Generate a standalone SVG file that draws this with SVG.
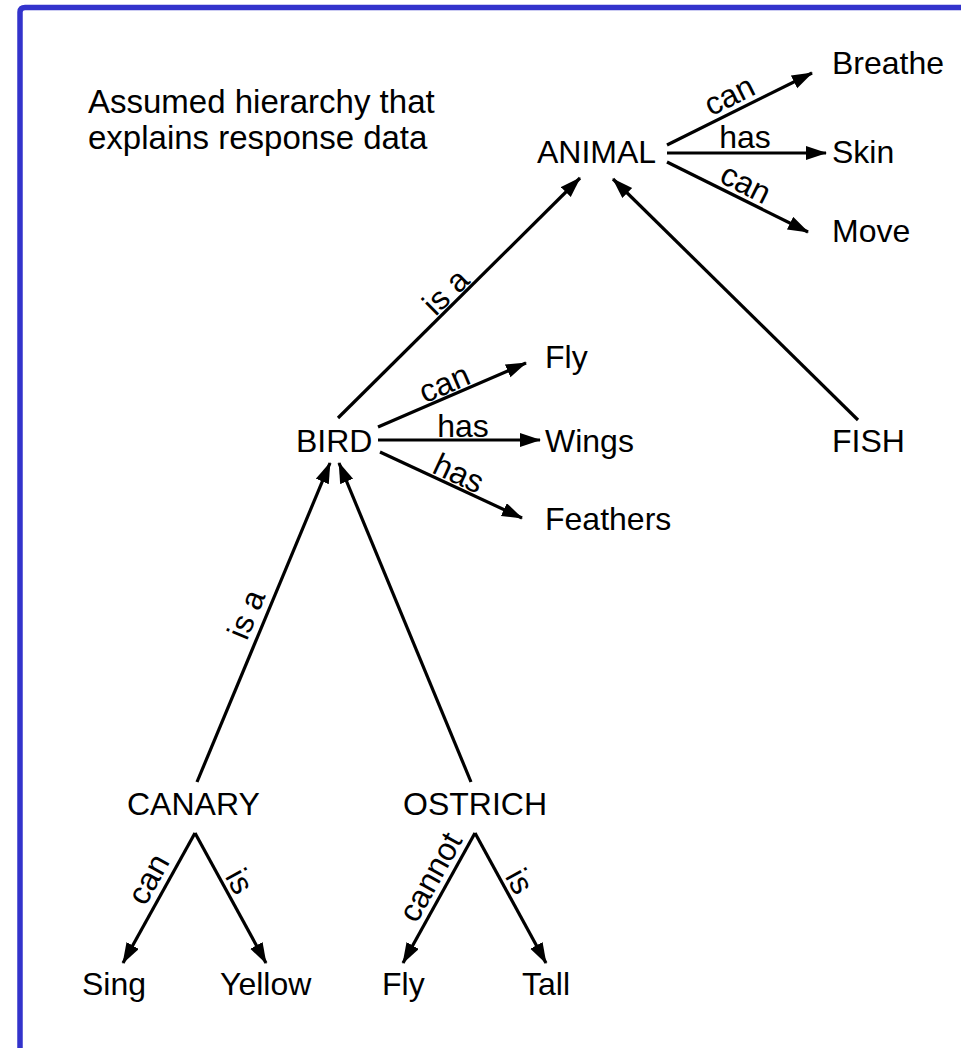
<svg xmlns="http://www.w3.org/2000/svg" width="961" height="1048" viewBox="0 0 961 1048">
  <style>
    text { font-family: "Liberation Sans", Arial, sans-serif; font-size: 32px; fill: #000; }
    .title { font-size: 33px; }
    .lbl { text-anchor: middle; }
    .edge { stroke: #000; stroke-width: 3.2; fill: none; marker-end: url(#arrow); }
  </style>
  <defs>
    <marker id="arrow" markerUnits="userSpaceOnUse" markerWidth="22" markerHeight="16" refX="20" refY="7" orient="auto">
      <path d="M0,0 L21,7 L0,14 Z" fill="#000"/>
    </marker>
  </defs>

  <rect width="961" height="1048" fill="#fff"/>
  <!-- frame: left and top rules with a small rounded corner -->
  <path d="M20,1048 V12 Q20,7.5 25,7.5 H961" fill="none" stroke="#3333cc" stroke-width="5.5"/>

  <g id="title" class="title">
    <text class="title" x="88" y="113">Assumed hierarchy that</text>
    <text class="title" x="88" y="149">explains response data</text>
  </g>

  <g id="connectors">
    <path class="edge" d="M667,145 L812,73"/>
    <path class="edge" d="M667,153 L826,153"/>
    <path class="edge" d="M667,162 L808,232"/>
    <path class="edge" d="M338,418 L580,178"/>
    <path class="edge" d="M858,420 L613,179"/>
    <path class="edge" d="M378,427 L526,363"/>
    <path class="edge" d="M378,440 L540,440"/>
    <path class="edge" d="M380,452 L522,518"/>
    <path class="edge" d="M197,782 L330,463"/>
    <path class="edge" d="M471,782 L339,463"/>
    <path class="edge" d="M195,833 L123,963"/>
    <path class="edge" d="M195,833 L266,963"/>
    <path class="edge" d="M475,833 L403,963"/>
    <path class="edge" d="M475,833 L546,963"/>

    <g id="edge-labels">
      <text class="lbl" transform="translate(730,97) rotate(-26.4)" y="9">can</text>
      <text class="lbl" x="745" y="148">has</text>
      <text class="lbl" transform="translate(745,185) rotate(26.6)" y="9">can</text>
      <text class="lbl" transform="translate(447,293) rotate(-44.6)" y="9">is a</text>
      <text class="lbl" transform="translate(445,385) rotate(-23.2)" y="9">can</text>
      <text class="lbl" x="463" y="437">has</text>
      <text class="lbl" transform="translate(458,475) rotate(24.9)" y="9">has</text>
      <text class="lbl" transform="translate(248,615) rotate(-67.4)" y="9">is a</text>
      <text class="lbl" transform="translate(150,880) rotate(-61)" y="9">can</text>
      <text class="lbl" transform="translate(238,882) rotate(61.3)" y="9">is</text>
      <text class="lbl" transform="translate(432,878) rotate(-61)" y="9">cannot</text>
      <text class="lbl" transform="translate(518,882) rotate(61.3)" y="9">is</text>
    </g>
  </g>

  <g id="node-animal"><text x="537" y="163">ANIMAL</text></g>
  <g id="node-breathe"><text x="832" y="74">Breathe</text></g>
  <g id="node-skin"><text x="832" y="163">Skin</text></g>
  <g id="node-move"><text x="832" y="242">Move</text></g>
  <g id="node-bird"><text x="296" y="452">BIRD</text></g>
  <g id="node-fly"><text x="545" y="368">Fly</text></g>
  <g id="node-wings"><text x="545" y="452">Wings</text></g>
  <g id="node-feathers"><text x="545" y="530">Feathers</text></g>
  <g id="node-fish"><text x="832" y="452">FISH</text></g>
  <g id="node-canary"><text x="127" y="815">CANARY</text></g>
  <g id="node-ostrich"><text x="403" y="815">OSTRICH</text></g>
  <g id="node-sing"><text x="82" y="995">Sing</text></g>
  <g id="node-yellow"><text x="220" y="995">Yellow</text></g>
  <g id="node-cannot-fly"><text x="382" y="995">Fly</text></g>
  <g id="node-tall"><text x="522" y="995">Tall</text></g>
</svg>
